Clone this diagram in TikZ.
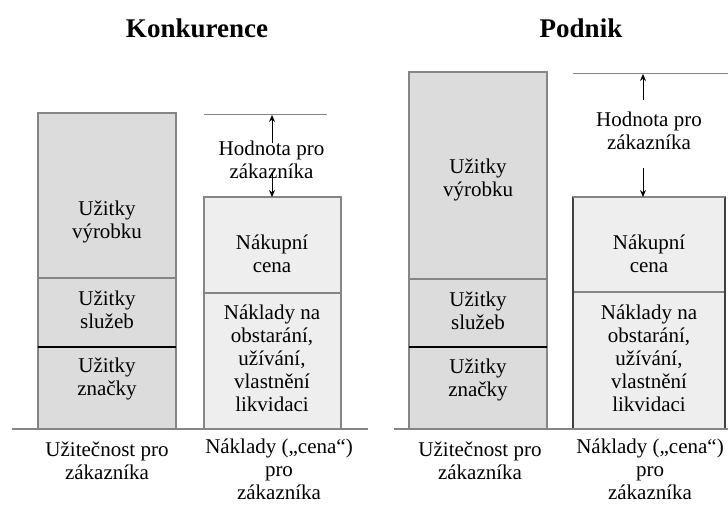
\documentclass[tikz,border=0pt]{standalone}
\usepackage{fontspec}
\setmainfont{Liberation Serif}
\usetikzlibrary{arrows.meta}
\definecolor{benefitfill}{HTML}{DCDCDC}
\definecolor{costfill}{HTML}{EEEEEE}
\definecolor{edgegray}{HTML}{858585}
\definecolor{edgedark}{HTML}{404040}
\tikzset{
  bar/.style={draw=edgegray, line width=1.4pt, inner sep=0pt, outer sep=0pt},
  benefit/.style={bar, fill=benefitfill},
  cost/.style={bar, fill=costfill},
  lbl/.style={font=\fontsize{21}{23}\selectfont, align=center, inner sep=0pt},
  ttl/.style={font=\fontsize{27}{30}\selectfont\bfseries, inner sep=0pt},
  valarrow/.style={-{Stealth[length=7pt,width=6pt]}, line width=1pt},
  refline/.style={draw=edgegray, line width=1pt},
  ground/.style={draw=edgegray, line width=1.5pt},
  splitline/.style={draw=black, line width=1.4pt},
  darkside/.style={draw=edgedark, line width=1.4pt}
}
\begin{document}
\begin{tikzpicture}[x=1pt,y=-1pt]
\useasboundingbox (0,0) rectangle (728,504);

% ---------- Konkurence ----------
\node[ttl] (ktitle) at (197,28) {Konkurence};

\node[benefit, minimum width=138pt, minimum height=165pt] (kv) at (107,195.5) {};
\node[benefit, minimum width=138pt, minimum height=69pt]  (ks) at (107,312.5) {};
\node[benefit, minimum width=138pt, minimum height=82pt]  (kz) at (107,388) {};
\draw[splitline] (kz.north west) -- (kz.north east);

\node[cost, minimum width=137pt, minimum height=96pt]  (kn) at (272.5,245) {};
\node[cost, minimum width=137pt, minimum height=136pt] (ko) at (272.5,361) {};

\coordinate (kref1) at (204,114);
\coordinate (kref2) at (327,114);
\draw[refline] (kref1) -- (kref2);

\coordinate (kg1) at (12,429);
\coordinate (kg2) at (368,429);
\draw[ground] (kg1) -- (kg2);

\node[lbl] (kvt) at (107,221.5) {Užitky\\výrobku};
\node[lbl] (kst) at (107,310) {Užitky\\služeb};
\node[lbl] (kzt) at (107,379) {Užitky\\značky};
\node[lbl] (knt) at (272,253.5) {Nákupní\\cena};
\node[lbl] (kot) at (272,358.5) {Náklady na\\obstarání,\\užívání,\\vlastnění\\likvidaci};
\node[lbl] (kht) at (271.5,160) {Hodnota pro\\zákazníka};
\node[lbl] (kub) at (107,461) {Užitečnost pro\\zákazníka};
\node[lbl] (kcb) at (279,469) {Náklady („cena“)\\pro\\zákazníka};

\coordinate (kup) at (272,143);
\coordinate (kupend) at (272,115);
\coordinate (kdown) at (272,172);
\draw[valarrow] (kup) -- (kupend);
\draw[valarrow] (kdown) -- (kdown |- kn.north);

% ---------- Podnik ----------
\node[ttl] (ptitle) at (581,28) {Podnik};

\node[benefit, minimum width=138pt, minimum height=207pt] (pv) at (478,175.5) {};
\node[benefit, minimum width=138pt, minimum height=68pt]  (ps) at (478,313) {};
\node[benefit, minimum width=138pt, minimum height=82pt]  (pz) at (478,388) {};
\draw[splitline] (pz.north west) -- (pz.north east);

\node[cost, minimum width=152pt, minimum height=95pt]  (pn) at (649,244.5) {};
\node[cost, minimum width=152pt, minimum height=137pt] (po) at (649,360.5) {};
\draw[darkside] (pn.north west) -- (po.south west) -- (po.south east) -- (pn.north east);
\draw[bar] (pn.north west) -- (pn.north east);

\coordinate (pref1) at (573,73);
\coordinate (pref2) at (728,73);
\draw[refline] (pref1) -- (pref2);

\coordinate (pg1) at (394,429);
\coordinate (pg2) at (728,429);
\draw[ground] (pg1) -- (pg2);

\node[lbl] (pvt) at (478,179.5) {Užitky\\výrobku};
\node[lbl] (pst) at (478,310.5) {Užitky\\služeb};
\node[lbl] (pzt) at (478,379.5) {Užitky\\značky};
\node[lbl] (pnt) at (649,254) {Nákupní\\cena};
\node[lbl] (pot) at (649,358.5) {Náklady na\\obstarání,\\užívání,\\vlastnění\\likvidaci};
\node[lbl] (pht) at (649,130.5) {Hodnota pro\\zákazníka};
\node[lbl] (pub) at (480,461) {Užitečnost pro\\zákazníka};
\node[lbl] (pcb) at (650,469) {Náklady („cena“)\\pro\\zákazníka};

\coordinate (pup) at (643,100);
\coordinate (pupend) at (643,74);
\coordinate (pdown) at (643,168);
\draw[valarrow] (pup) -- (pupend);
\draw[valarrow] (pdown) -- (pdown |- pn.north);
\end{tikzpicture}
\end{document}
